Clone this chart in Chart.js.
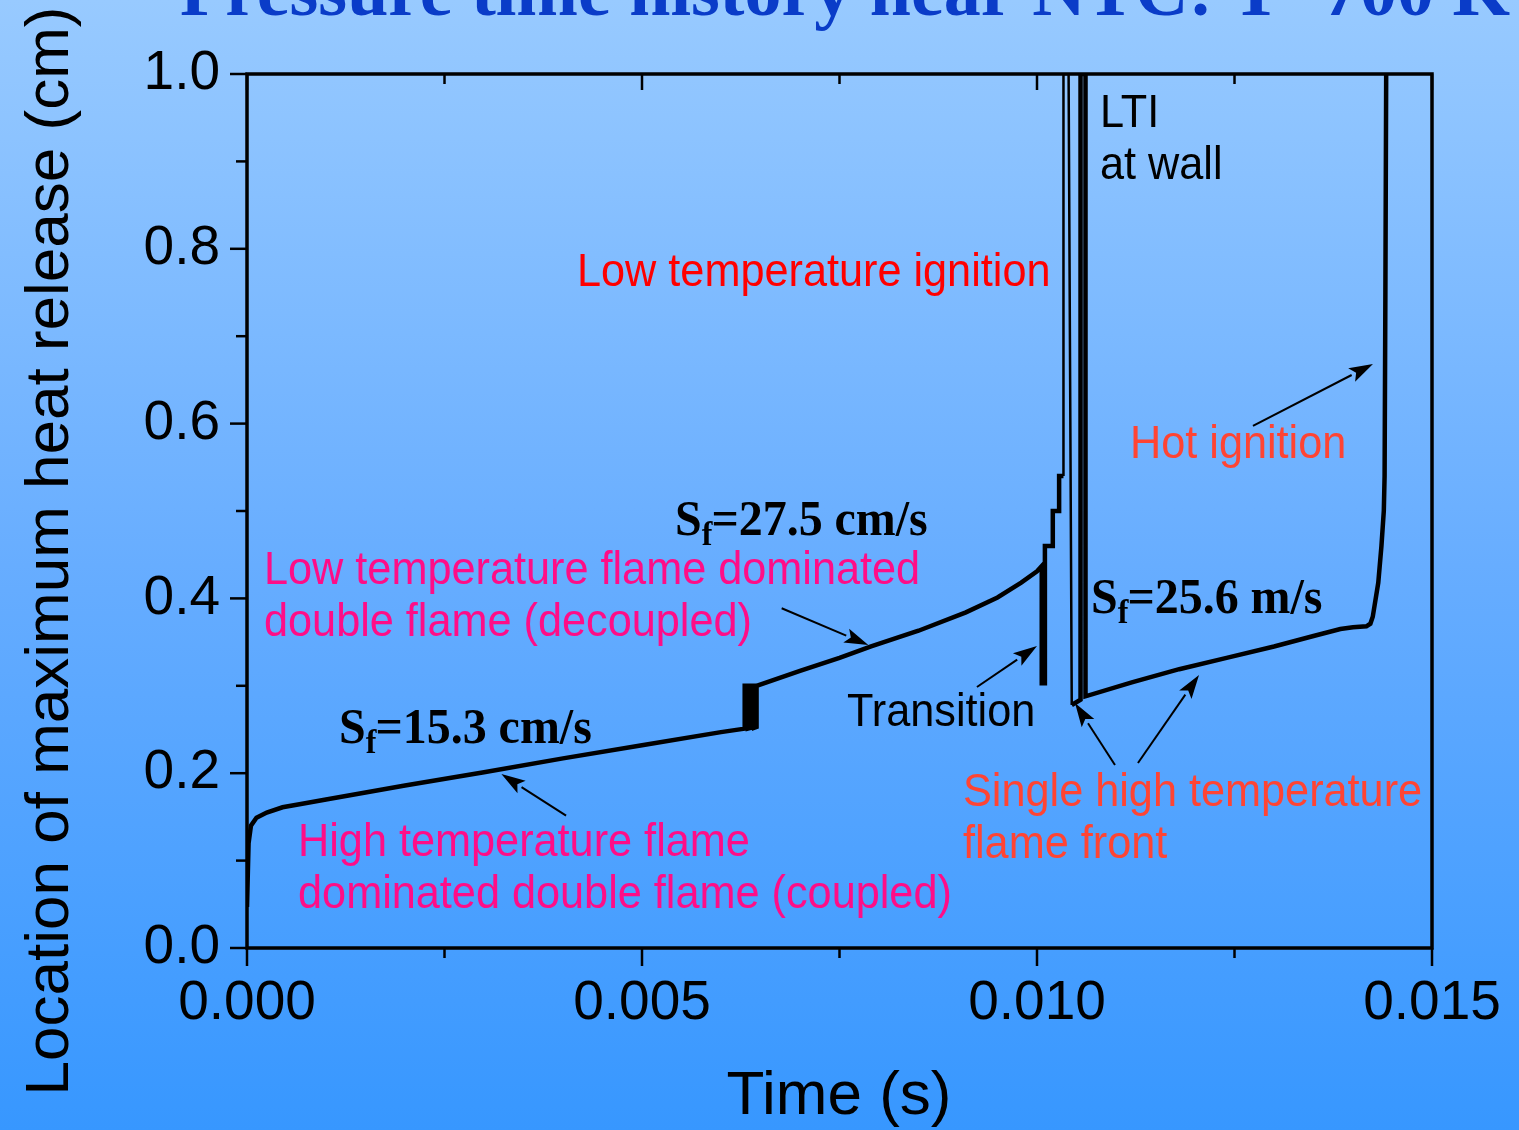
<!DOCTYPE html>
<html>
<head>
<meta charset="utf-8">
<title>Location of maximum heat release</title>
<script src="https://cdn.jsdelivr.net/npm/chart.js@4.4.1/dist/chart.umd.min.js"></script>
<style>
  html, body { margin: 0; padding: 0; }
  #wrap {
    width: 1519px; height: 1130px;
    background: linear-gradient(to bottom, #98caff 0%, #67adff 50%, #3797ff 100%);
  }
  canvas { display: block; }
</style>
</head>
<body>
<div id="wrap"><canvas id="chart" width="1519" height="1130"></canvas></div>
<script>
// flame position history: time (s) vs location of max heat release (cm)
const timeVals = [
  0, 0.00002, 0.00005, 0.00012, 0.00025, 0.00045, 0.0007, 0.001, 0.002, 0.003, 0.004, 0.005, 0.006, 0.0063,
  // jump to the decoupled double flame
  0.0063, 0.00634, 0.00634, 0.00638, 0.00638, 0.00642, 0.00642, 0.00645, 0.00645,
  0.0070, 0.0075, 0.0079, 0.0085, 0.0091, 0.0095, 0.0098, 0.0100,
  // transition
  0.01006, 0.01006, 0.0101, 0.0101,
  // low temperature ignition
  0.0102, 0.0102, 0.01028, 0.01028, 0.010335, 0.010335,
  0.0104, 0.01044, 0.010551, 0.010551, 0.010614, 0.010614,
  // single high temperature front, then hot ignition
  0.0112, 0.0118, 0.0124, 0.0130, 0.0135, 0.01384, 0.0140, 0.01417, 0.01422, 0.01425,
  0.01432, 0.01436, 0.01439, 0.01440, 0.01441, 0.01442
];
const locVals = [
  0.047, 0.12, 0.14, 0.149, 0.155, 0.161, 0.165, 0.170, 0.186, 0.201, 0.217, 0.232, 0.247, 0.251,
  0.300, 0.300, 0.251, 0.252, 0.300, 0.300, 0.252, 0.253, 0.300,
  0.317, 0.332, 0.345, 0.363, 0.384, 0.401, 0.418, 0.431,
  0.437, 0.303, 0.303, 0.46,
  0.46, 0.50, 0.50, 0.54, 0.54, 1.0,
  1.0, 0.278, 0.284, 1.0, 1.0, 0.288,
  0.304, 0.319, 0.332, 0.345, 0.357, 0.365, 0.367, 0.368, 0.371, 0.379,
  0.418, 0.46, 0.50, 0.54, 0.75, 1.0
];

const xTicks = [0, 0.005, 0.010, 0.015];
const yTicks = [0, 0.2, 0.4, 0.6, 0.8, 1.0];

const RED = '#ff0000', PINK = '#ff0d87', ORANGE = '#ff4433', BLACK = '#000000';

// text notes, anchored in data coordinates (left end of the baseline)
const notes = [
  { text: 'Low temperature ignition', t: 0.004177, y: 0.7574, color: RED },
  { text: 'LTI', t: 0.010797, y: 0.9394, color: BLACK },
  { text: 'at wall', t: 0.010797, y: 0.8799, color: BLACK },
  { text: 'Hot ignition', t: 0.011177, y: 0.5606, color: ORANGE },
  { text: 'Low temperature flame dominated', t: 0.000215, y: 0.4165, color: PINK },
  { text: 'double flame (decoupled)', t: 0.000215, y: 0.357, color: PINK },
  { text: 'High temperature flame', t: 0.000646, y: 0.1053, color: PINK },
  { text: 'dominated double flame (coupled)', t: 0.000646, y: 0.0458, color: PINK },
  { text: 'Transition', t: 0.007595, y: 0.254, color: BLACK },
  { text: 'Single high temperature', t: 0.009063, y: 0.1625, color: ORANGE },
  { text: 'flame front', t: 0.009063, y: 0.103, color: ORANGE }
];

// flame speed labels
const speeds = [
  { text: '=15.3 cm/s', t: 0.001165, y: 0.2346 },
  { text: '=27.5 cm/s', t: 0.005418, y: 0.4725 },
  { text: '=25.6 m/s', t: 0.010684, y: 0.3833 }
];

// arrows: [tail t, tail y, head t, head y]
const arrows = [
  [0.004039, 0.1514, 0.00322, 0.199],
  [0.006768, 0.3887, 0.007865, 0.3467],
  [0.00924, 0.2986, 0.0100, 0.3455],
  [0.010987, 0.2094, 0.010481, 0.2803],
  [0.011278, 0.2117, 0.012051, 0.3124],
  [0.012734, 0.5973, 0.014253, 0.6682]
];

const SANS = '"Liberation Sans", Arial, sans-serif';
const SERIF = '"Liberation Serif", "Times New Roman", serif';

function drawText(ctx, str, x, y, font, color, sx) {
  ctx.save();
  ctx.translate(x, y);
  ctx.scale(sx, 1);
  ctx.font = font;
  ctx.fillStyle = color;
  ctx.textAlign = 'left';
  ctx.textBaseline = 'alphabetic';
  ctx.fillText(str, 0, 0);
  ctx.restore();
}

function drawArrow(ctx, x0, y0, x1, y1) {
  const a = Math.atan2(y1 - y0, x1 - x0);
  const len = 24, half = 7.5;
  const bx = x1 - len * Math.cos(a), by = y1 - len * Math.sin(a);
  ctx.beginPath();
  ctx.moveTo(x0, y0);
  ctx.lineTo(bx, by);
  ctx.lineWidth = 2;
  ctx.strokeStyle = BLACK;
  ctx.stroke();
  ctx.beginPath();
  ctx.moveTo(x1, y1);
  ctx.lineTo(bx - half * Math.sin(a), by + half * Math.cos(a));
  ctx.lineTo(bx + 5 * Math.cos(a), by + 5 * Math.sin(a));
  ctx.lineTo(bx + half * Math.sin(a), by - half * Math.cos(a));
  ctx.closePath();
  ctx.fillStyle = BLACK;
  ctx.fill();
}

function midpoints(vals) {
  const out = [];
  for (let i = 0; i < vals.length - 1; i++) out.push((vals[i] + vals[i + 1]) / 2);
  return out;
}

const frameAndNotes = {
  id: 'frameAndNotes',
  afterDatasetsDraw(chart) {
    const ctx = chart.ctx;
    const area = chart.chartArea;
    const xs = chart.scales.x, ys = chart.scales.y;
    ctx.save();

    // axis box
    ctx.strokeStyle = BLACK;
    ctx.lineWidth = 3.5;
    ctx.strokeRect(area.left, area.top, area.right - area.left, area.bottom - area.top);

    // tick marks: outward on bottom/left, inward on top
    ctx.lineWidth = 2.5;
    const xMajor = xs.ticks.map(t => t.value);
    const yMajor = ys.ticks.map(t => t.value);
    const mark = (x0, y0, x1, y1) => { ctx.beginPath(); ctx.moveTo(x0, y0); ctx.lineTo(x1, y1); ctx.stroke(); };
    xMajor.forEach(v => {
      const px = xs.getPixelForValue(v);
      mark(px, area.bottom, px, area.bottom + 18);
      mark(px, area.top, px, area.top + 16);
    });
    midpoints(xMajor).forEach(v => {
      const px = xs.getPixelForValue(v);
      mark(px, area.bottom, px, area.bottom + 10);
      mark(px, area.top, px, area.top + 10);
    });
    yMajor.forEach(v => {
      const py = ys.getPixelForValue(v);
      mark(area.left, py, area.left - 17, py);
    });
    midpoints(yMajor).forEach(v => {
      const py = ys.getPixelForValue(v);
      mark(area.left, py, area.left - 11, py);
    });

    // annotations
    notes.forEach(n => {
      drawText(ctx, n.text, xs.getPixelForValue(n.t), ys.getPixelForValue(n.y),
        '46px ' + SANS, n.color, 0.94);
    });

    speeds.forEach(s => {
      const x = xs.getPixelForValue(s.t), y = ys.getPixelForValue(s.y);
      ctx.save();
      ctx.translate(x, y);
      ctx.scale(0.94, 1);
      ctx.fillStyle = BLACK;
      ctx.font = 'bold 51px ' + SERIF;
      ctx.fillText('S', 0, 0);
      const w1 = ctx.measureText('S').width;
      ctx.font = 'bold 34px ' + SERIF;
      ctx.fillText('f', w1, 10);
      const w2 = ctx.measureText('f').width;
      ctx.font = 'bold 51px ' + SERIF;
      ctx.fillText(s.text, w1 + w2 - 1, 0);
      ctx.restore();
    });

    arrows.forEach(a => {
      drawArrow(ctx, xs.getPixelForValue(a[0]), ys.getPixelForValue(a[1]),
        xs.getPixelForValue(a[2]), ys.getPixelForValue(a[3]));
    });

    // headline and axis titles
    drawText(ctx, 'Pressure time history near NTC: T=700 K', 180, 15, 'bold 74px ' + SERIF, '#0a3cc8', 1);
    ctx.save();
    ctx.font = '62px ' + SANS;
    ctx.fillStyle = BLACK;
    ctx.textAlign = 'center';
    ctx.fillText('Time (s)', 839, 1114);
    ctx.translate(68, 551);
    ctx.rotate(-Math.PI / 2);
    ctx.fillText('Location of maximum heat release (cm)', 0, 0);
    ctx.restore();

    ctx.restore();
  }
};

// the quick excursions to the wall around ignition are drawn with a thinner pen
const thinSegment = c => (c.p0.parsed.x >= 0.01033 && c.p1.parsed.x <= 0.010445) ? 2.5 : undefined;

new Chart(document.getElementById('chart'), {
  type: 'line',
  data: {
    datasets: [{
      data: timeVals.map((t, i) => ({ x: t, y: locVals[i] })),
      borderColor: BLACK,
      borderWidth: 4.5,
      pointRadius: 0,
      tension: 0,
      fill: false,
      segment: { borderWidth: thinSegment }
    }]
  },
  options: {
    responsive: false,
    devicePixelRatio: 1,
    animation: false,
    events: [],
    layout: { padding: { top: 74, right: 87, bottom: 0, left: 0 } },
    plugins: { legend: { display: false }, tooltip: { enabled: false } },
    scales: {
      x: {
        type: 'linear',
        min: 0,
        max: 0.015,
        afterBuildTicks: s => { s.ticks = xTicks.map(v => ({ value: v })); },
        afterFit: s => { s.height = 182; s.paddingLeft = 0; s.paddingRight = 0; },
        grid: { display: false, drawTicks: false },
        border: { display: false },
        ticks: {
          color: BLACK,
          padding: 23,
          maxRotation: 0,
          autoSkip: false,
          font: { family: SANS, size: 55 },
          callback: v => v.toFixed(3)
        }
      },
      y: {
        min: 0,
        max: 1,
        afterBuildTicks: s => { s.ticks = yTicks.map(v => ({ value: v })); },
        afterFit: s => { s.width = 247; s.paddingTop = 0; s.paddingBottom = 0; },
        grid: { display: false, drawTicks: false },
        border: { display: false },
        ticks: {
          color: BLACK,
          padding: 27,
          autoSkip: false,
          font: { family: SANS, size: 55 },
          callback: v => v.toFixed(1)
        }
      }
    }
  },
  plugins: [frameAndNotes]
});
</script>
</body>
</html>
